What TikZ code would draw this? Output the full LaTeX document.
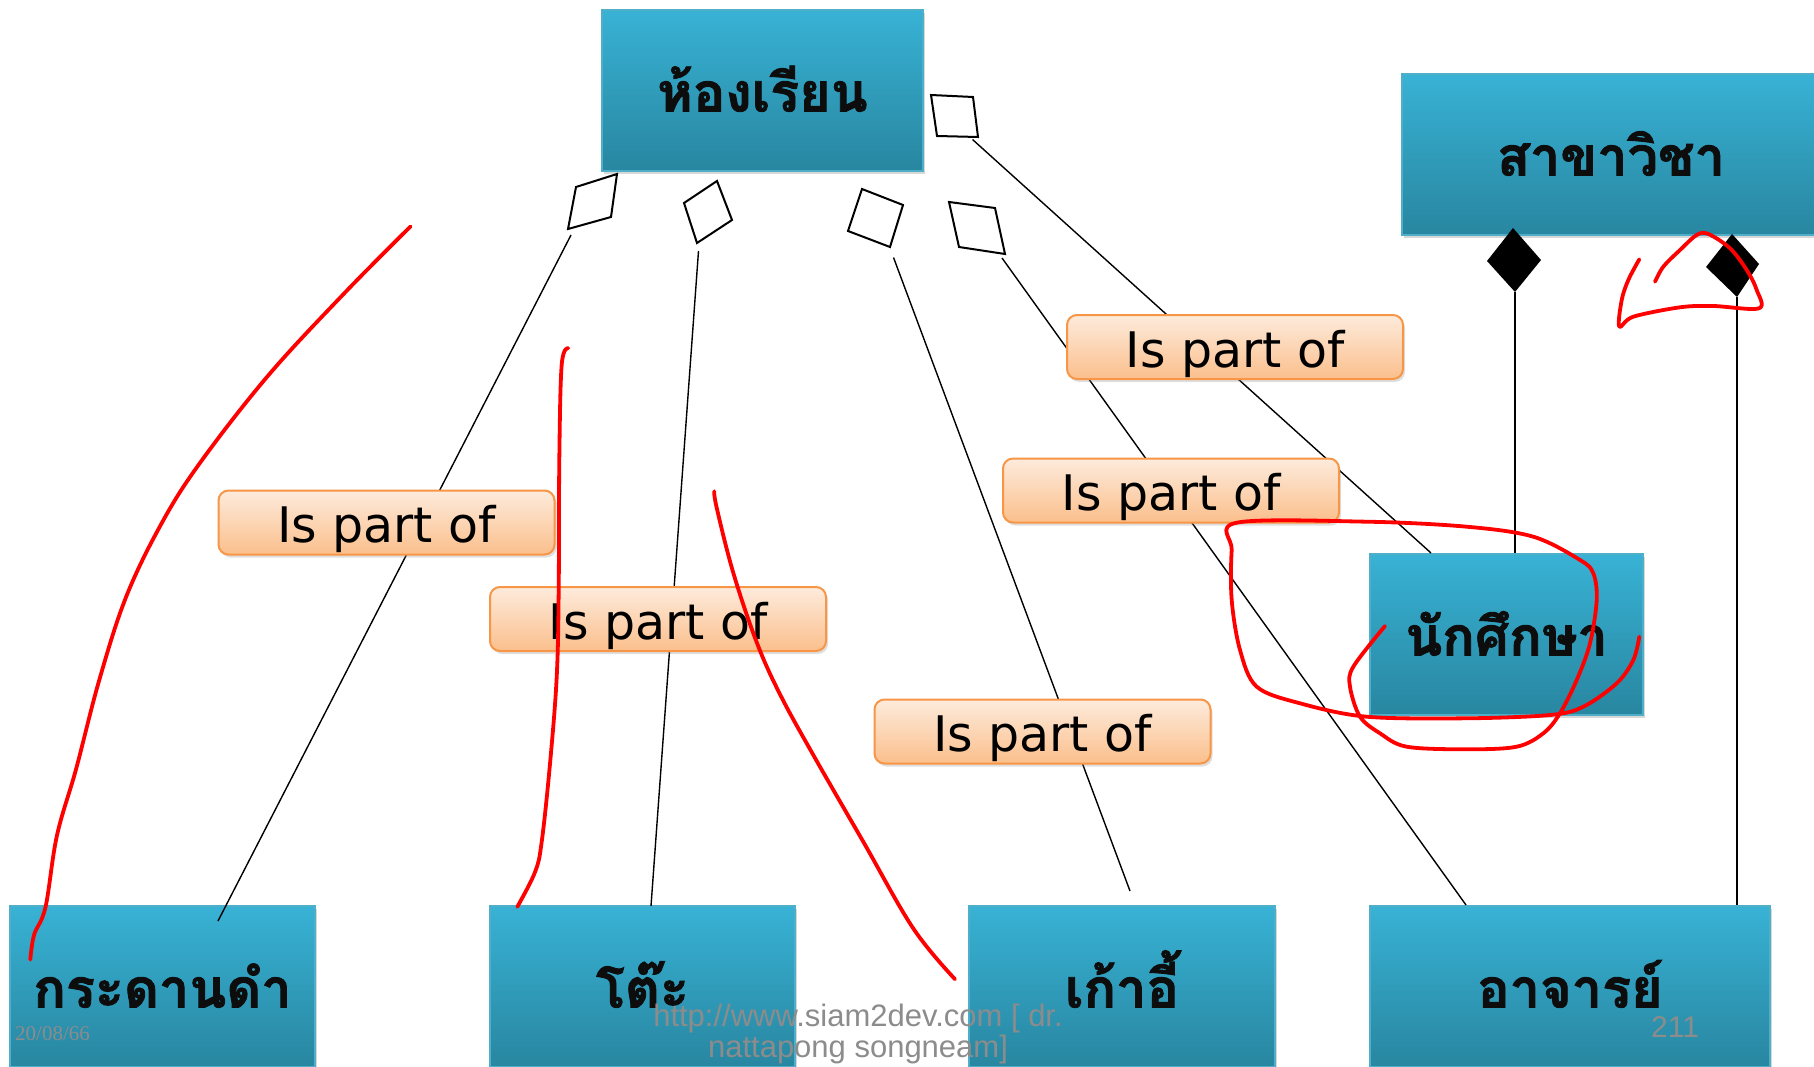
\documentclass[tikz,border=0pt]{standalone}
\usepackage{fontspec}
\usetikzlibrary{shadows}
\newfontfamily\thaifont[Script=Thai,BoldFeatures={FakeBold=1.6}]{Loma}
\newfontfamily\tagfont{DejaVu Sans}
\newfontfamily\notefont{Liberation Sans}
\newfontfamily\datefont{Liberation Serif}
\definecolor{boxtop}{RGB}{56,178,213}
\definecolor{boxbot}{RGB}{40,134,160}
\definecolor{boxedge}{RGB}{80,175,200}
\definecolor{tagtop}{RGB}{253,235,220}
\definecolor{tagbot}{RGB}{251,191,140}
\definecolor{tagedge}{RGB}{247,150,70}
\definecolor{notegray}{RGB}{140,140,140}
\definecolor{pen}{RGB}{255,0,0}

\begin{document}
\begin{tikzpicture}[
      x=1pt,y=-1pt,
      cls/.style={draw=boxedge, line width=1.5pt, top color=boxtop, bottom color=boxbot,
        minimum height=161pt, inner sep=0pt, text height=42pt, text depth=0pt,
        font=\thaifont\bfseries\fontsize{54}{58}\selectfont, text=black!95,
        drop shadow={shadow xshift=2pt, shadow yshift=-3pt, opacity=0.3}},
      tag/.style={draw=tagedge, line width=2pt, rounded corners=10pt, top color=tagtop, bottom color=tagbot,
        minimum width=336pt, minimum height=64pt, inner sep=0pt, text height=40pt, text depth=0pt,
        font=\tagfont\fontsize{49}{55}\selectfont,
        drop shadow={shadow xshift=2pt, shadow yshift=-3pt, opacity=0.25}},
      link/.style={draw, line width=1.4pt},
      hollow/.style={draw, line width=2pt, fill=white},
      filled/.style={fill=black},
      ink/.style={draw=pen, line width=3.8pt, line cap=round, line join=round},
      note/.style={text=notegray, inner sep=0pt}
    ]
      \fill[white] (0,0) rectangle (1814,1067);
      \useasboundingbox (0,0) rectangle (1814,1067);
      % classes
      \node[cls, minimum width=321pt] (room) at (762.5,90.5) {ห้องเรียน};
      \node[cls, minimum width=418pt] (major) at (1611,154.5) {สาขาวิชา};
      \node[cls, minimum width=273pt] (student) at (1506.5,634.5) {นักศึกษา};
      \node[cls, minimum width=305pt] (board) at (162.5,986.5) {กระดานดำ};
      \node[cls, minimum width=305pt] (desk) at (642.5,986.5) {โต๊ะ};
      \node[cls, minimum width=306pt] (chair) at (1122,986.5) {เก้าอี้};
      \node[cls, minimum width=400pt] (teacher) at (1570,986.5) {อาจารย์};
      % aggregation ends
      \coordinate (aggA) at (571,235);   \coordinate (endA) at (218,921);
      \coordinate (aggB) at (698.5,251); \coordinate (endB) at (651,906);
      \coordinate (aggC) at (893.5,257.5); \coordinate (endC) at (1130,891);
      \coordinate (aggD) at (1002,258);  \coordinate (endD) at (1466,905);
      \coordinate (aggE) at (972.5,139.5); \coordinate (endE) at (1431,553);
      \coordinate (compA) at (1515,292);
      \coordinate (compB) at (1737,297);
      \draw[link] (aggA) -- (endA);
      \draw[link] (aggB) -- (endB);
      \draw[link] (aggC) -- (endC);
      \draw[link] (aggD) -- (endD);
      \draw[link] (aggE) -- (endE);
      \draw[link] (compA) -- (compA |- student.north);
      \draw[link] (compB) -- (compB |- teacher.north);
      \draw[hollow] (617,174) -- (611,217) -- (568,229) -- (576,187) -- cycle;
      \draw[hollow] (717,181) -- (732,220) -- (697,243) -- (684,203) -- cycle;
      \draw[hollow] (862,189) -- (903,205) -- (890,247) -- (848,231) -- cycle;
      \draw[hollow] (949,202) -- (995,208) -- (1005,254) -- (959,247) -- cycle;
      \draw[hollow] (931,95) -- (973,97) -- (978,137) -- (937,136) -- cycle;
      \fill[filled] (1513,228) -- (1541,260) -- (1515,292) -- (1487,261) -- cycle;
      \fill[filled] (1732,234) -- (1759,264) -- (1737,297) -- (1706,267) -- cycle;
      % role labels
      \node[tag] (partA) at (386.5,522.5) {Is part of};
      \node[tag] (partB) at (658,619) {Is part of};
      \node[tag] (partE) at (1235,347) {Is part of};
      \node[tag] (partD) at (1171,490.5) {Is part of};
      \node[tag] (partC) at (1042.5,731.5) {Is part of};
      % footer
      \node[note, anchor=base west, font=\datefont\fontsize{21}{24}\selectfont] (date) at (15,1040) {20/08/66};
      \node[note, anchor=base, font=\notefont\fontsize{31}{35}\selectfont] (site) at (858,1026) {http://www.siam2dev.com [ dr.};
      \node[note, anchor=base, font=\notefont\fontsize{31}{35}\selectfont] (owner) at (858,1057) {nattapong songneam]};
      \node[note, anchor=base, font=\notefont\fontsize{30}{34}\selectfont] (page) at (1675,1037) {211};
      % pen marks
      \draw[ink] plot[smooth, tension=0.6] coordinates {(410.5,226.5) (343.7,293.9) (267.2,376.7) (198.4,465.1) (160.2,525.9) (125.8,597.7) (99.1,680.6) (76.1,769) (57,835.3) (45.5,907.1) (34.1,934.8) (30.3,959.6)};
      \draw[ink] plot[smooth, tension=0.6] coordinates {(568.3,348.2) (561.7,364.7) (559.3,460.1) (558.7,590.2) (556.7,677) (550,763.7) (541.7,841.8) (535,872.1) (517.3,906.8)};
      \draw[ink] plot[smooth, tension=0.6] coordinates {(714.3,491.3) (716.7,507.8) (733.3,572.9) (756.7,642.3) (780,694.3) (813.3,755) (863.3,841.8) (913.3,928.5) (955,979.2)};
      \draw[ink] plot[smooth, tension=0.55] coordinates {(1385,626) (1353.3,666.7) (1350,686.7) (1360,716.7) (1380,733.3) (1406.7,746.7) (1466.7,749.3) (1516.7,746.7) (1543.3,733.3) (1560,713.3) (1576.7,680) (1590,643.3) (1596.7,600) (1593.3,573.3) (1580,560) (1533.3,536.7) (1466.7,526.7) (1366.7,521.7) (1236.7,522.7) (1231.7,550) (1231.7,600) (1240,650) (1256.7,686.7) (1300,703.3) (1366.7,716.7) (1466.7,718.3) (1550,715) (1583.3,706.7) (1616.7,683.3) (1633.3,660) (1639.3,636.7)};
      \draw[ink] plot[smooth, tension=0.55] coordinates {(1639.3,259.3) (1628.3,280) (1621.7,300) (1619.3,326.7) (1633.3,316.7) (1680,307.3) (1713.3,306) (1759,308.3) (1756.7,290) (1746.7,270) (1730,248.3) (1708.3,234) (1696.7,235) (1680,250) (1663.3,266.7) (1655,281.7)};
    \end{tikzpicture}
\end{document}
